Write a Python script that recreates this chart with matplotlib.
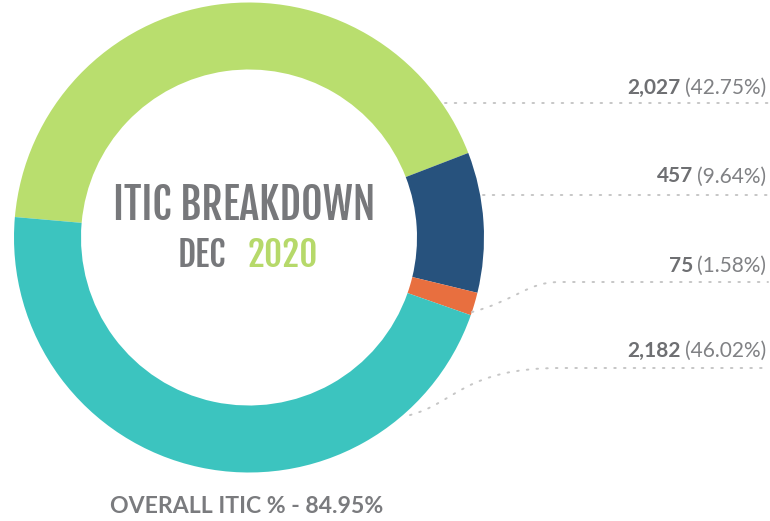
import numpy as np
import matplotlib.pyplot as plt
from matplotlib import font_manager as fm
from matplotlib.path import Path
from matplotlib.patches import PathPatch

# data
counts = [2027, 457, 75, 2182]
count_labels = ['2,027', '457', '75', '2,182']
share_labels = ['(42.75%)', '(9.64%)', '(1.58%)', '(46.02%)']
colors = ['#b9de6e', '#27527d', '#e86f3f', '#3cc4bf']
title = 'ITIC BREAKDOWN'
month, year = 'DEC', '2020'
footer = 'OVERALL ITIC % - 84.95%'

W, H = 770, 521
GRAY = '#6e6f72'
DOT = '#c6c6c6'
DASH = (0, (0.8, 4.2))

installed = {f.name for f in fm.fontManager.ttflist}


def pick(*names):
    return [n for n in names if n in installed] + ['DejaVu Sans']


COND = pick('Fjalla One', 'Bebas Neue', 'Oswald')
SANS = pick('Lato')


def py(y):
    # pixel row (top-down) -> data y (bottom-up)
    return H - y


fig = plt.figure(figsize=(W / 100, H / 100), dpi=100)
ax = fig.add_axes([0, 0, 1, 1])

cx, cy, R = 249, py(237.5), 235
wedges, _ = ax.pie(counts, colors=colors, center=(cx, cy), radius=R,
                   startangle=175, counterclock=False,
                   wedgeprops=dict(width=67, linewidth=0))
ax.set_xlim(0, W)
ax.set_ylim(0, H)
ax.set_aspect('equal')
ax.axis('off')

# leader lines
line_y = [103, 195, 282, 368]
x_end = 768
for i in range(2):
    y = line_y[i]
    x0 = cx + np.sqrt(R ** 2 - (cy - py(y)) ** 2)
    ax.plot([x0 + 3, x_end], [py(y), py(y)], color=DOT, lw=1.4,
            linestyle=DASH, dash_capstyle='round')

# curved leaders for the lower two labels
starts = [(-18.5, 1.0), (-47.8, 1.02)]
for (ang, k), y in zip(starts, line_y[2:]):
    a = np.deg2rad(ang)
    x0, y0 = cx + k * R * np.cos(a), cy + k * R * np.sin(a)
    verts = [(x0, y0), (x0 + 45, y0 + 12), (x0 + 55, py(y)), (560, py(y)),
             (x_end, py(y))]
    codes = [Path.MOVETO, Path.CURVE4, Path.CURVE4, Path.CURVE4, Path.LINETO]
    ax.add_patch(PathPatch(Path(verts, codes), fill=False, edgecolor=DOT,
                           lw=1.4, linestyle=DASH, capstyle='round'))

fig.canvas.draw()
renderer = fig.canvas.get_renderer()
inv = ax.transData.inverted()


def fit(t, width):
    # scale a text's font size so its drawn width matches the reference
    w = t.get_window_extent(renderer).width
    t.set_fontsize(t.get_fontsize() * width / w)


# value labels
label_base = [93.5, 182.5, 272, 357]
for num, pct, yb in zip(count_labels, share_labels, label_base):
    t = ax.text(766, py(yb), pct, ha='right', va='baseline',
                fontsize=15, family=SANS, fontweight='normal', color='#808184')
    x0 = inv.transform((t.get_window_extent(renderer).x0, 0))[0]
    ax.text(x0 - 4, py(yb), num, ha='right', va='baseline',
            fontsize=15, family=SANS, fontweight='bold', color=GRAY)

# centre title
tt = ax.text(244, py(220.5), title, ha='center', va='baseline', fontsize=30,
             family=COND, color='#77787b')
fit(tt, 262)
t1 = ax.text(0, py(267), month, ha='left', va='baseline', fontsize=28,
             family=COND, color='#77787b')
t2 = ax.text(0, py(267), year, ha='left', va='baseline', fontsize=28,
             family=COND, color='#b6d96a')
fit(t2, 70)
t1.set_fontsize(t2.get_fontsize())
w1 = t1.get_window_extent(renderer).width
w2 = t2.get_window_extent(renderer).width
gap = 22
left = 247.5 - (w1 + gap + w2) / 2
t1.set_x(left)
t2.set_x(left + w1 + gap)

tf = ax.text(246.5, py(513), footer, ha='center', va='baseline', fontsize=15,
             family=SANS, fontweight='bold', color='#7a7b7e')
fit(tf, 273)

fig.savefig('out.png', dpi=100)
